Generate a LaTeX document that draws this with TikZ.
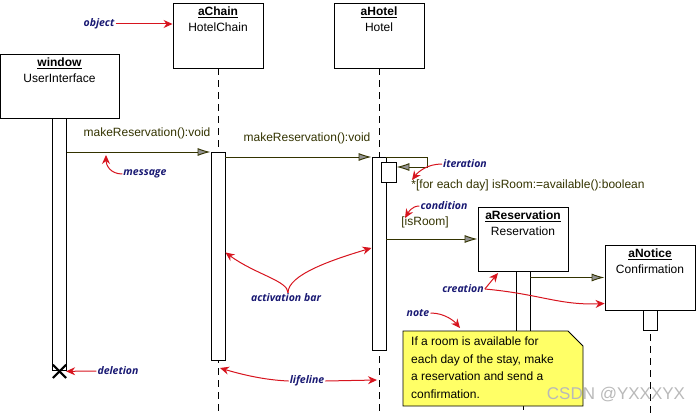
\documentclass[tikz,border=0pt]{standalone}
\usepackage{fontspec}
\setmainfont{Liberation Sans}
\newfontfamily\tagfont{Open Sans}
\usetikzlibrary{arrows.meta,positioning,shapes.misc}

\definecolor{msgline}{RGB}{51,51,0}
\definecolor{tagblue}{RGB}{25,25,115}
\definecolor{annotred}{RGB}{215,20,30}
\definecolor{notefill}{RGB}{255,255,102}

\begin{document}
\begin{tikzpicture}[x=1pt,y=-1pt,
  objbox/.style={draw, line width=0.9pt, minimum width=90pt, minimum height=65pt, inner sep=0pt},
  objtext/.style={align=center, inner sep=0pt, font=\fontsize{12}{16}\selectfont},
  actbar/.style={draw, fill=white, line width=0.9pt, minimum width=14pt, inner sep=0pt, anchor=north},
  lifeline/.style={dash pattern=on 7pt off 5pt, line width=0.9pt},
  msg/.style={draw=msgline, line width=0.9pt, -{Latex[length=13pt, width=8pt, color=msgline, fill=gray!85]}},
  msgtext/.style={text=msgline, inner sep=0pt, font=\fontsize{12}{14}\selectfont},
  tag/.style={text=tagblue, inner sep=1pt, font=\tagfont\bfseries\itshape\fontsize{10.5}{13}\selectfont},
  annot/.style={draw=annotred, line width=1pt, -{Stealth[length=9pt, width=8pt]}},
]
\useasboundingbox (0,0) rectangle (700,414);
\coordinate (bottom) at (0,414);

% Objects
\node[objbox, minimum width=119pt, minimum height=64pt] (window) at (59.5,86) {};
\node[objbox] (chain) at (218,35.5) {};
\node[objbox] (hotel) at (379,35.5) {};
\node[objbox, minimum height=64pt] (resv) at (523,239) {};
\node[objbox] (notice) at (650,277.5) {};

\node[objtext, below=4.5pt of window.north] {\underline{\textbf{window}}\\UserInterface};
\node[objtext, below=4.5pt of chain.north] {\underline{\textbf{aChain}}\\HotelChain};
\node[objtext, below=4.5pt of hotel.north] {\underline{\textbf{aHotel}}\\Hotel};
\node[objtext, below=4.5pt of resv.north] {\underline{\textbf{aReservation}}\\Reservation};
\node[objtext, below=4.5pt of notice.north] {\underline{\textbf{aNotice}}\\Confirmation};

% Lifelines
\draw[lifeline] (chain.south) -- (chain.south |- bottom);
\draw[lifeline] (hotel.south) -- (hotel.south |- bottom);
\draw[lifeline] (resv.south) -- (resv.south |- bottom);
\draw[lifeline] (notice.south) -- (notice.south |- bottom);

% Activation bars
\node[actbar, minimum height=252pt] (winbar) at (window.south) {};
\node[actbar, minimum height=208pt] (chainbar) at (218,152) {};
\node[actbar, minimum height=193pt] (hotelbar) at (379,157) {};
\node[actbar, minimum width=15pt, minimum height=20pt] (loopbar) at (388.5,162) {};
\node[actbar, minimum height=130pt] (resvbar) at (resv.south) {};
\node[actbar, minimum height=20pt] (noticebar) at (notice.south) {};

% Deletion
\node[cross out, draw, line width=2.2pt, minimum size=11pt, inner sep=0pt] (del) at (winbar.south) {};

% Messages
\draw[msg] (winbar.east |- chainbar.north) -- (chainbar.north west);
\node[msgtext] (m1) at (147,133) {makeReservation():void};
\draw[msg] (chainbar.east |- hotelbar.north) -- (hotelbar.north west);
\node[msgtext] (m2) at (307,138) {makeReservation():void};
\draw[msg] (hotelbar.north east) -- ++(41,0) |- ([yshift=-5pt]loopbar.north east);
\node[msgtext] (m3) at (528,185) {*[for each day] isRoom:=available():boolean};
\node[msgtext] (m4) at (425,222) {[isRoom]};
\draw[msg] (hotelbar.east |- resv.west) -- (resv.west);
\draw[msg] (resvbar.east |- notice.west) -- (notice.west);

% Note
\filldraw[fill=notefill, line width=0.9pt] (403,331) -- (568,331) -- (583,346) -- (583,406) -- (403,406) -- cycle;
\node[anchor=north west, align=left, inner sep=0pt, font=\fontsize{12}{17.5}\selectfont] (notetxt) at (411,337)
  {If a room is available for\\each day of the stay, make\\a reservation and send a\\confirmation.};

% Annotation labels
\node[tag] (lobject) at (99,24) {object};
\node[tag] (lmessage) at (145,174) {message};
\node[tag] (literation) at (465,164) {iteration};
\node[tag] (lcondition) at (444,206) {condition};
\node[tag] (lactivation) at (286,298) {activation bar};
\node[tag] (llifeline) at (307,381) {lifeline};
\node[tag] (ldeletion) at (118,371) {deletion};
\node[tag] (lcreation) at (463,289) {creation};
\node[tag] (lnote) at (418,313) {note};

% Annotation arrows
\coordinate (msgpt) at (106,155);
\coordinate (itpt) at (412,180);
\coordinate (condpt) at (405,218);
\coordinate (notept) at (460,328);
\coordinate (lifept) at (220,368);
\coordinate (lifept2) at (377,380);
\coordinate (crpt) at (498,273);

\draw[annot] (lobject) -- (chain.west |- lobject);
\draw[annot] (lmessage.west) .. controls +(-12,0) and +(0,10) .. (msgpt);
\draw[annot] (literation.west) .. controls +(-15,0) and +(6,-8) .. (itpt);
\draw[annot] (lcondition.west) .. controls +(-8,0) and +(3,-5) .. (condpt);
\draw[annot] ([xshift=2pt]lactivation.north) .. controls +(0,-12) and +(30,22) .. ([yshift=4pt]chainbar.east);
\draw[annot] ([xshift=2pt]lactivation.north) .. controls +(0,-18) and +(-40,12) .. ([yshift=6pt]hotelbar.west);
\draw[annot] (llifeline.west) .. controls +(-25,-1) and +(20,6) .. (lifept);
\draw[annot] (llifeline.east) -- (lifept2);
\draw[annot] (ldeletion.west) -- (del.east);
\draw[annot] (lcreation.east) -- (crpt);
\draw[annot] (lcreation.east) .. controls +(55,5) and +(-45,2) .. ([yshift=-26pt]notice.west);
\draw[annot] (lnote.east) .. controls +(15,0) and +(-5,-6) .. (notept);

% Watermark
\node[text=gray!55, inner sep=0pt, font=\fontsize{17}{19}\selectfont] (mark) at (616,395) {CSDN @YXXXYX};
\end{tikzpicture}
\end{document}
